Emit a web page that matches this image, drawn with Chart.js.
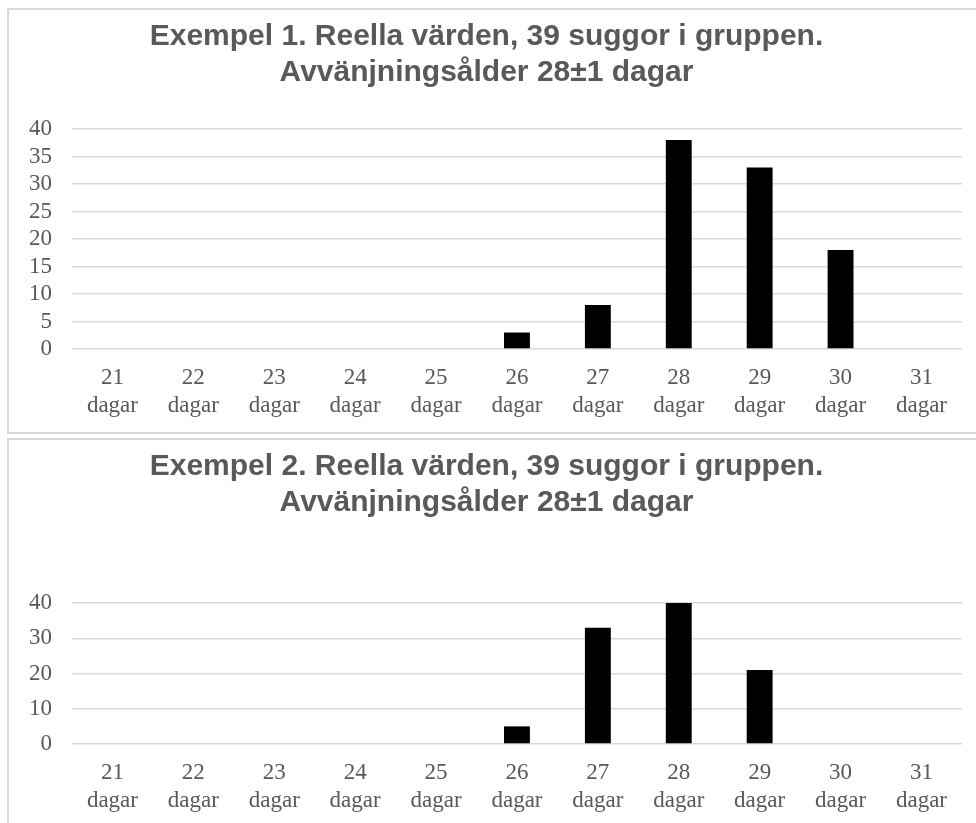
<!DOCTYPE html>
<html>
<head>
<meta charset="utf-8">
<script src="https://cdn.jsdelivr.net/npm/chart.js@4.4.1/dist/chart.umd.min.js"></script>
<style>
  body { margin: 0; background: #fff; overflow: hidden; width: 976px; height: 823px; position: relative; }
  .box { position: absolute; left: 7px; width: 1000px; border: 2px solid #d9d9d9; box-sizing: border-box; background: #fff; }
  canvas { position: absolute; left: 2px; top: 1px; }
</style>
</head>
<body>
<div class="box" id="box1" style="top:8px; height:426px;">
  <canvas id="chart1" width="951" height="424"></canvas>
</div>
<div class="box" id="box2" style="top:438px; height:426px;">
  <canvas id="chart2" width="951" height="389"></canvas>
</div>
<script>
// Data
const categories = ['21', '22', '23', '24', '25', '26', '27', '28', '29', '30', '31'];
const unit = 'dagar';
const exempel1 = [0, 0, 0, 0, 0, 3, 8, 38, 33, 18, 0];
const exempel2 = [0, 0, 0, 0, 0, 5, 33, 40, 21, 0, 0];
const title1 = ['Exempel 1. Reella värden, 39 suggor i gruppen.', 'Avvänjningsålder 28±1 dagar'];
const title2 = ['Exempel 2. Reella värden, 39 suggor i gruppen.', 'Avvänjningsålder 28±1 dagar'];
const yMax = 40;
const yStep1 = 5;
const yStep2 = 10;

const textColor = '#595959';
const gridColor = '#d9d9d9';

function makeChart(id, values, title, step, titleGap) {
  const ctx = document.getElementById(id).getContext('2d');
  return new Chart(ctx, {
    type: 'bar',
    data: {
      labels: categories.map(c => [c, unit]),
      datasets: [{
        data: values,
        backgroundColor: '#000000',
        borderWidth: 0,
        categoryPercentage: 1,
        barPercentage: 0.32
      }]
    },
    options: {
      responsive: false,
      animation: false,
      layout: { padding: 0 },
      plugins: {
        legend: { display: false },
        tooltip: { enabled: false },
        title: {
          display: true,
          text: title,
          color: textColor,
          font: { family: 'Liberation Sans', weight: 'bold', size: 30, lineHeight: 1.2 },
          padding: { top: 8, bottom: titleGap }
        }
      },
      scales: {
        x: {
          grid: { display: false, drawTicks: false },
          border: { display: false },
          ticks: {
            color: textColor,
            padding: 15,
            maxRotation: 0,
            autoSkip: false,
            font: { family: 'Liberation Serif', size: 23, lineHeight: 1.217 }
          }
        },
        y: {
          min: 0,
          max: yMax,
          afterFit: scale => { scale.width = 61; },
          grid: { color: gridColor, lineWidth: 1.5, drawTicks: false },
          border: { display: false },
          ticks: {
            stepSize: step,
            autoSkip: false,
            color: textColor,
            padding: 20,
            font: { family: 'Liberation Serif', size: 23 }
          }
        }
      }
    }
  });
}

makeChart('chart1', exempel1, title1, yStep1, 38);
makeChart('chart2', exempel2, title2, yStep2, 82);
</script>
</body>
</html>
